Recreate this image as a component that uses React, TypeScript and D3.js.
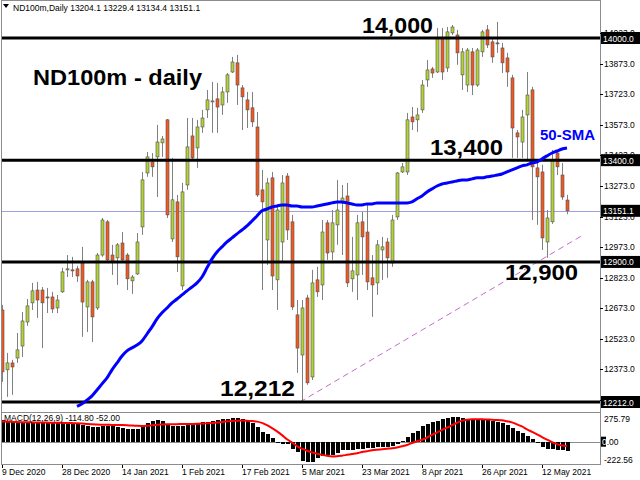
import React from 'react';
import * as d3 from 'd3';

const openP = [12664,12370,12404,12428,12487,12605,12699,12762,12762,12728,
 12728,12674,12753,12861,12861,12866,12895,12679,12802,12674,
 12934,13097,12934,12920,12993,12934,12807,12841,13072,13337,
 13391,13416,13485,13598,13013,13195,12782,13278,13519,13460,
 13563,13647,13686,13701,13671,13735,13833,13878,13755,13696,
 13657,13563,13254,13008,13313,12812,12998,13322,13097,12640,
 12443,12723,12335,12812,12787,13092,12949,13082,13190,13224,
 12817,12836,13097,13047,12822,12797,12959,12998,12895,13121,
 13342,13342,13612,13598,13647,13794,13848,13833,14000,13853,
 14025,14015,13819,13769,13932,13769,13932,14040,13981,13976,
 13951,13902,13804,13534,13489,13622,13745,13362,13342,12998,
 13097,13435,13327,13204.1];

const highP = [12689,12453,12419,12551,12654,12718,12797,12802,12777,12772,
 12753,12738,12871,12934,12925,12881,12974,12812,12812,12944,
 13116,13106,12984,12993,13047,12944,12836,13042,13342,13440,
 13435,13573,13519,13602,13411,13229,13288,13607,13607,13598,
 13647,13745,13784,13779,13760,13828,13907,13917,13769,13735,
 13735,13637,13352,13313,13342,13180,13327,13337,13131,12713,
 12713,12738,12861,12876,13106,13106,13155,13303,13278,13288,
 13023,13131,13146,13190,12934,13008,13023,13018,13131,13342,
 13386,13632,13661,13657,13794,13892,13858,14049,14049,14054,
 14064,14040,13951,13951,13951,13951,14040,14064,14005,14079,
 13976,13927,13819,13548,13647,13833,13760,13401,13377,13155,
 13450,13450,13386,13229.4];

const lowP = [12311,12237,12247,12404,12433,12586,12664,12625,12477,12649,
 12649,12649,12748,12826,12826,12802,12532,12556,12507,12664,
 12925,12895,12836,12787,12895,12762,12743,12836,13033,13318,
 13318,13219,13416,13116,12998,12851,12762,13254,13401,13362,
 13534,13607,13534,13534,13622,13681,13828,13671,13548,13558,
 13563,13219,12762,12885,12762,12664,12900,13008,12664,12355,
 12212,12296,12320,12728,12713,12910,12910,12984,12934,12777,
 12753,12713,12836,12762,12630,12738,12812,12822,12876,13106,
 13337,13327,13548,13539,13632,13760,13804,13828,13794,13833,
 14015,13868,13745,13735,13720,13760,13907,13951,13878,13927,
 13828,13760,13411,13411,13411,13401,13106,13082,12959,12920,
 13087,13327,13205,13134.4];

const closeP = [12360,12404,12384,12468,12610,12684,12758,12713,12699,12723,
 12669,12713,12851,12866,12856,12831,12703,12802,12630,12934,
 13106,12910,12900,12984,12910,12817,12826,12998,13303,13416,
 13367,13489,13504,13131,13205,12925,13244,13465,13411,13563,
 13607,13696,13691,13661,13735,13819,13882,13769,13711,13647,
 13588,13229,13195,13288,12831,13155,13288,13057,12679,12477,
 12674,12306,12797,12753,13047,12944,13092,13155,13214,12797,
 12856,13092,13023,12802,12787,12984,12974,12920,13106,13337,
 13367,13598,13588,13622,13769,13843,13828,14000,13833,14030,
 14054,13927,13932,13941,13769,13941,14030,13966,13907,13971,
 13878,13833,13558,13514,13612,13720,13367,13318,13018,13116,
 13401,13367,13219,13151.1];

const sma50: (number | null)[] = [null,null,null,null,null,null,null,null,null,null,
 null,null,null,null,null,12190,12203,12222,12242,12271,
 12301,12330,12370,12404,12438,12463,12478,12492,12512,12546,
 12581,12620,12650,12674,12699,12718,12738,12758,12777,12797,
 12826,12871,12915,12949,12974,12998,13018,13038,13057,13077,
 13101,13126,13151,13160,13170,13175,13180,13180,13175,13175,
 13170,13170,13170,13175,13180,13185,13190,13195,13195,13190,
 13185,13180,13180,13185,13185,13190,13190,13190,13190,13190,
 13190,13190,13195,13210,13224,13244,13259,13273,13283,13288,
 13293,13298,13303,13303,13308,13313,13313,13318,13322,13327,
 13332,13342,13352,13362,13372,13377,13386,13391,13406,13421,
 13435,13445,13455,13460];

const macdMain = [260,245,240,236,232,230,232,232,228,226,
 226,225,228,224,222,218,200,185,180,182,
 190,188,185,182,170,155,150,160,190,225,
 250,265,255,215,195,190,195,205,210,220,
 235,245,255,262,270,280,284,282,270,250,
 230,180,120,90,40,-15,-25,-30,-90,-130,
 -230,-250,-245,-200,-170,-165,-160,-140,-100,-95,
 -95,-90,-85,-80,-75,-70,-65,-60,-50,-25,
 5,60,100,135,185,215,235,255,270,290,
 300,295,285,270,265,265,265,262,250,240,
 225,200,170,125,100,70,30,-15,-70,-85,
 -90,-95,-105,-114.8];

const macdSignal = [245,243,241,239,237,236,235,234,233,232,
 231,230,229,228,226,224,220,215,211,208,
 206,205,204,203,202,200,196,193,192,195,
 200,205,209,211,212,213,214,215,216,218,
 220,224,228,233,240,247,252,256,257,256,
 252,244,228,200,165,125,80,30,-10,-55,
 -85,-110,-130,-145,-160,-172,-180,-178,-170,-160,
 -150,-140,-125,-115,-105,-98,-92,-86,-80,-70,
 -56,-40,-16,5,24,50,84,110,144,170,
 200,230,256,268,272,272,272,270,268,265,
 260,248,235,210,185,150,120,90,55,25,
 -5,-30,-45,-52];

const dateLabels = ['9 Dec 2020','28 Dec 2020','14 Jan 2021','1 Feb 2021','17 Feb 2021','5 Mar 2021','23 Mar 2021','8 Apr 2021','26 Apr 2021','12 May 2021'];
const dateLabelBars = [0,12,24,36,48,60,72,84,96,108];
const priceTicks = [14023,13873,13723,13573,13423,13273,13123,12973,12823,12673,12523,12373,12223];
const levels = [14000,13400,12900,12212];
const lastPrice = 13151.1;
const macdTicks = [275.79, -222.56];
const trendBars = [59.6, 116.2];
const trendPrices = [12212, 13032];

const SMALL = "'Liberation Sans', Arial, sans-serif";

export default function App() {
  const n = closeP.length;
  const x = d3.scaleLinear().domain([0, n - 1]).range([2, 567]);
  const y = d3.scaleLinear().domain([12212, 14000]).range([402, 38]);
  const ym = d3.scaleLinear().domain([-222.56, 275.79]).range([460, 419]);

  const smaPath = d3.line<number | null>()
    .defined(d => d != null)
    .x((_, i) => x(i))
    .y(d => y(d as number))
    .curve(d3.curveMonotoneX)(sma50) || '';

  const sigPath = d3.line<number>()
    .x((_, i) => x(i))
    .y(d => ym(d))
    .curve(d3.curveMonotoneX)(macdSignal) || '';

  const bull = '#b2d235';
  const bear = '#f05a22';

  return (
    <svg width={640} height={480} style={{ position: 'absolute', left: 0, top: 0, background: '#fff' }}
      fontFamily={SMALL}>
      <defs>
        <clipPath id="mainClip"><rect x={2} y={1} width={598} height={411} /></clipPath>
        <clipPath id="macdClip"><rect x={2} y={413} width={598} height={51} /></clipPath>
      </defs>
      <rect x={0} y={0} width={640} height={480} fill="#fff" />

      <rect x={1.5} y={0.5} width={599} height={412} fill="none" stroke="#8c8c8c" />
      <rect x={1.5} y={412.5} width={599} height={52} fill="none" stroke="#8c8c8c" />

      <g clipPath="url(#mainClip)">
        <line x1={2} x2={600} y1={Math.round(y(lastPrice)) + 0.5} y2={Math.round(y(lastPrice)) + 0.5} stroke="#9f9fe6" strokeWidth={1} />
        <line x1={x(trendBars[0])} y1={y(trendPrices[0])} x2={x(trendBars[1])} y2={y(trendPrices[1])}
          stroke="#c46ccc" strokeWidth={1} strokeDasharray="6,4" />
        {closeP.map((c, i) => {
          const o = openP[i];
          const cx = Math.round(x(i));
          const top = y(Math.max(o, c));
          const bot = y(Math.min(o, c));
          const up = c >= o;
          return (
            <g key={i}>
              <line x1={cx + 0.5} x2={cx + 0.5} y1={y(highP[i])} y2={y(lowP[i])} stroke="#808080" strokeWidth={1} />
              <rect x={cx - 1} y={top} width={3} height={Math.max(1, bot - top)}
                fill={up ? bull : bear} stroke="#505050" strokeWidth={0.6} />
            </g>
          );
        })}
        {levels.map(l => (
          <line key={l} x1={0} x2={600} y1={y(l)} y2={y(l)} stroke="#000" strokeWidth={3} />
        ))}
        <path d={smaPath} fill="none" stroke="#0000ff" strokeWidth={3} strokeLinejoin="round" />
      </g>

      <path d="M3,4 L9,4 L6,8 Z" fill="#000" />
      <text x={13} y={10.5} fontSize={8.5} fill="#000">ND100m,Daily  13204.1 13229.4 13134.4 13151.1</text>

      <g fontFamily="'Liberation Sans', Arial, sans-serif" fontWeight="bold" fill="#000">
        <text x={33} y={85} fontSize={22} textLength={169} lengthAdjust="spacingAndGlyphs">ND100m - daily</text>
        <text x={362} y={33} fontSize={22} textLength={71} lengthAdjust="spacingAndGlyphs">14,000</text>
        <text x={430} y={155} fontSize={22} textLength={73} lengthAdjust="spacingAndGlyphs">13,400</text>
        <text x={505} y={280} fontSize={22} textLength={73} lengthAdjust="spacingAndGlyphs">12,900</text>
        <text x={220} y={396} fontSize={22} textLength={75} lengthAdjust="spacingAndGlyphs">12,212</text>
        <text x={540} y={140} fontSize={15} fill="#0000ff" textLength={55} lengthAdjust="spacingAndGlyphs">50-SMA</text>
      </g>

      {/* right price scale; some labels sit partly under the highlighted boxes, as in the terminal */}
      {priceTicks.map(t => (
        <g key={t}>
          <line x1={600} x2={603} y1={Math.round(y(t)) + 0.5} y2={Math.round(y(t)) + 0.5} stroke="#000" />
          <text x={604} y={y(t) + 3} fontSize={8.5} fill="#000">{t.toFixed(1)}</text>
        </g>
      ))}
      {levels.map(l => (
        <g key={'b' + l}>
          <rect x={601} y={y(l) - 6} width={39} height={12} fill="#000" />
          <text x={603} y={y(l) + 3.5} fontSize={8.5} fill="#fff">{l.toFixed(1)}</text>
        </g>
      ))}
      <rect x={601} y={y(lastPrice) - 6} width={39} height={12} fill="#000" />
      <text x={603} y={y(lastPrice) + 3.5} fontSize={8.5} fill="#fff">{lastPrice.toFixed(1)}</text>

      <g clipPath="url(#macdClip)">
        <line x1={2} x2={600} y1={Math.round(ym(0)) + 0.5} y2={Math.round(ym(0)) + 0.5} stroke="#8c8c8c" strokeWidth={1} />
        {macdMain.map((v, i) => {
          const cx = Math.round(x(i));
          const y0 = ym(0), y1 = ym(v);
          return <rect key={i} x={cx - 1} y={Math.min(y0, y1)} width={4} height={Math.abs(y1 - y0)} fill="#000" shapeRendering="crispEdges" />;
        })}
        <path d={sigPath} fill="none" stroke="#ff0000" strokeWidth={2} />
      </g>
      <text x={4} y={421} fontSize={8.5} fill="#000">MACD(12,26,9) -114.80 -52.00</text>
      {macdTicks.map(t => (
        <text key={t} x={604} y={ym(t) + 3} fontSize={8.5} fill="#000">{t.toFixed(2)}</text>
      ))}
      <rect x={601} y={ym(0) - 5} width={5} height={10} fill="#000" />
      <text x={602} y={ym(0) + 3} fontSize={8.5} fill="#000"><tspan fill="#fff">0</tspan>.00</text>

      {dateLabelBars.map((b, k) => {
        const cx = Math.round(x(b));
        return (
          <g key={b}>
            <line x1={cx + 0.5} x2={cx + 0.5} y1={465} y2={468} stroke="#000" />
            <text x={cx} y={475} fontSize={8.5} fill="#000">{dateLabels[k]}</text>
          </g>
        );
      })}
    </svg>
  );
}
